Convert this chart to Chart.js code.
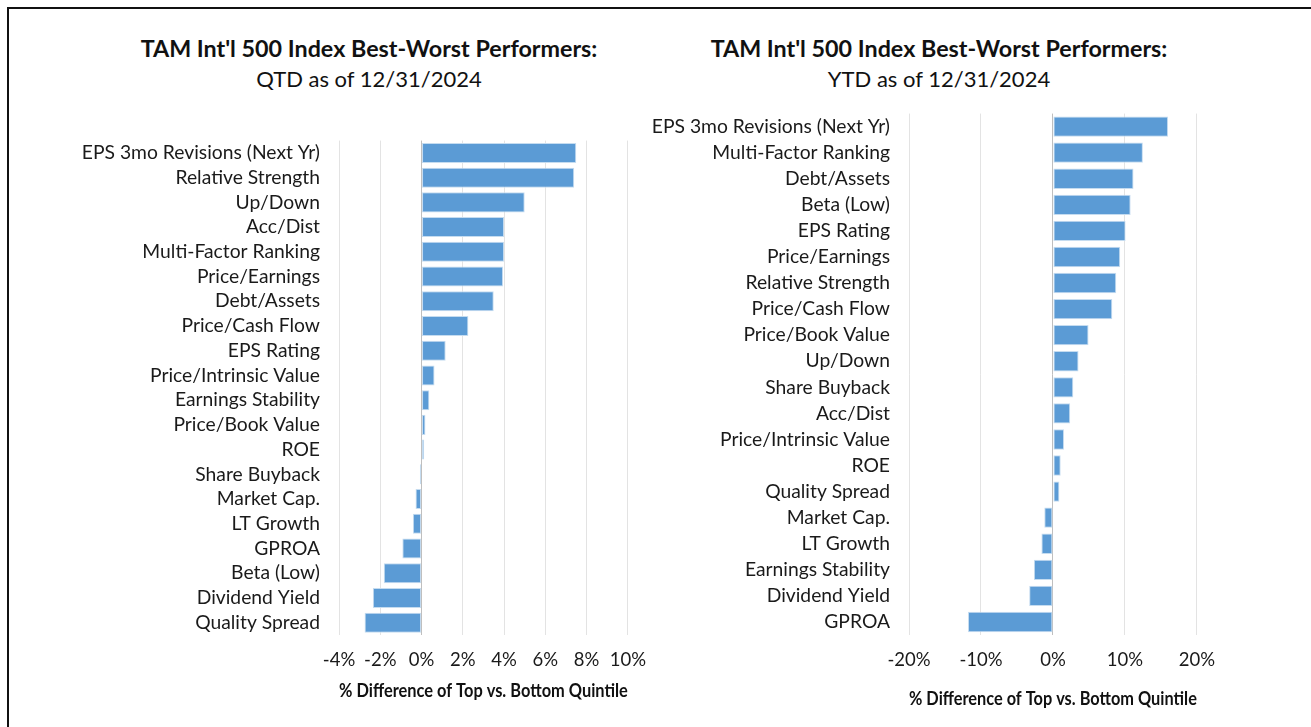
<!DOCTYPE html>
<html>
<head>
<meta charset="utf-8">
<script src="https://cdn.jsdelivr.net/npm/chart.js@4"></script>
<style>
  body { margin: 0; background: #fff; font-family: Lato, sans-serif; color: #111; }
  #page { position: relative; width: 1311px; height: 727px; overflow: hidden; }
  #frame { position: absolute; left: 7px; top: 7px; width: 1400px; height: 800px;
           border-top: 2px solid #111; border-left: 2px solid #111; }
  .title { position: absolute; width: 700px; text-align: center; line-height: 28px; }
  .title b { font-weight: 700; font-size: 23.3px; }
  .title span { font-size: 22px; }
  canvas { position: absolute; }
</style>
</head>
<body>
<div id="page">
  <div id="frame"></div>
  <div class="title" style="left:19px; top:34px;"><b>TAM Int'l 500 Index Best-Worst Performers:</b><br><span>QTD as of 12/31/2024</span></div>
  <div class="title" style="left:589px; top:34px;"><b>TAM Int'l 500 Index Best-Worst Performers:</b><br><span>YTD as of 12/31/2024</span></div>
  <canvas id="qtd-chart" style="left:20px; top:110px;" width="640" height="595"></canvas>
  <canvas id="ytd-chart" style="left:630px; top:83px;" width="599" height="629"></canvas>
</div>
<script>
// QTD data (% difference of top vs. bottom quintile)
const qtdLabels = ["EPS 3mo Revisions (Next Yr)", "Relative Strength", "Up/Down", "Acc/Dist",
  "Multi-Factor Ranking", "Price/Earnings", "Debt/Assets", "Price/Cash Flow", "EPS Rating",
  "Price/Intrinsic Value", "Earnings Stability", "Price/Book Value", "ROE", "Share Buyback",
  "Market Cap.", "LT Growth", "GPROA", "Beta (Low)", "Dividend Yield", "Quality Spread"];
const qtdValues = [7.5, 7.4, 5.0, 4.0, 4.0, 3.95, 3.5, 2.27, 1.17, 0.63, 0.38, 0.19, 0.13, -0.08,
  -0.29, -0.42, -0.93, -1.83, -2.36, -2.76];

// YTD data
const ytdLabels = ["EPS 3mo Revisions (Next Yr)", "Multi-Factor Ranking", "Debt/Assets", "Beta (Low)",
  "EPS Rating", "Price/Earnings", "Relative Strength", "Price/Cash Flow", "Price/Book Value",
  "Up/Down", "Share Buyback", "Acc/Dist", "Price/Intrinsic Value", "ROE", "Quality Spread",
  "Market Cap.", "LT Growth", "Earnings Stability", "Dividend Yield", "GPROA"];
const ytdValues = [16.0, 12.5, 11.2, 10.8, 10.1, 9.35, 8.8, 8.25, 4.95, 3.56, 2.83, 2.4, 1.54,
  1.08, 0.9, -1.2, -1.6, -2.65, -3.3, -11.8];

// Axis ticks: [min, max, step]
const qtdTicks = [-4, 10, 2];
const ytdTicks = [-20, 20, 10];

const axisTitle = "% Difference of Top vs. Bottom Quintile";

// Build one horizontal bar chart
const makeChart = (canvasId, labels, values, ticks, cfg) => {
  return new Chart(document.getElementById(canvasId), {
    type: 'bar',
    data: {
      labels: labels,
      datasets: [{
        data: values,
        backgroundColor: '#5B9BD5',
        borderColor: '#C5DCF0',
        borderWidth: 1,
        borderSkipped: false,
        categoryPercentage: 1,
        barPercentage: cfg.barPct
      }]
    },
    options: {
      indexAxis: 'y',
      responsive: false,
      animation: false,
      layout: { padding: { top: cfg.padTop, right: 30, bottom: cfg.padBottom, left: 0 } },
      plugins: { legend: { display: false }, tooltip: { enabled: false } },
      scales: {
        x: {
          min: ticks[0],
          max: ticks[1],
          ticks: {
            stepSize: ticks[2],
            padding: 14,
            maxRotation: 0,
            minRotation: 0,
            autoSkip: false,
            color: '#1a1a1a',
            font: { family: 'Lato', size: 18.5 },
            callback: v => v + '%'
          },
          grid: {
            drawTicks: false,
            color: ctx => ctx.tick && ctx.tick.value === 0 ? '#BFBFBF' : '#E3E3E3'
          },
          border: { display: false },
          title: {
            display: true,
            text: axisTitle,
            color: '#111',
            font: { family: 'Lato', size: 19.5, weight: 'bold' },
            padding: 0
          },
          afterFit: scale => { scale.height = cfg.xHeight; }
        },
        y: {
          ticks: {
            padding: 19,
            color: '#1a1a1a',
            font: { family: 'Lato', size: 19.3 },
            autoSkip: false
          },
          grid: { display: false, drawTicks: false },
          border: { display: false },
          afterFit: scale => { scale.width = cfg.yWidth; }
        }
      }
    }
  });
};

makeChart('qtd-chart', qtdLabels, qtdValues, qtdTicks,
  { barPct: 0.81, padTop: 11, padBottom: 3, xHeight: 67, yWidth: 319 });
makeChart('ytd-chart', ytdLabels, ytdValues, ytdTicks,
  { barPct: 0.78, padTop: 13, padBottom: 2, xHeight: 75, yWidth: 279 });
</script>
</body>
</html>
